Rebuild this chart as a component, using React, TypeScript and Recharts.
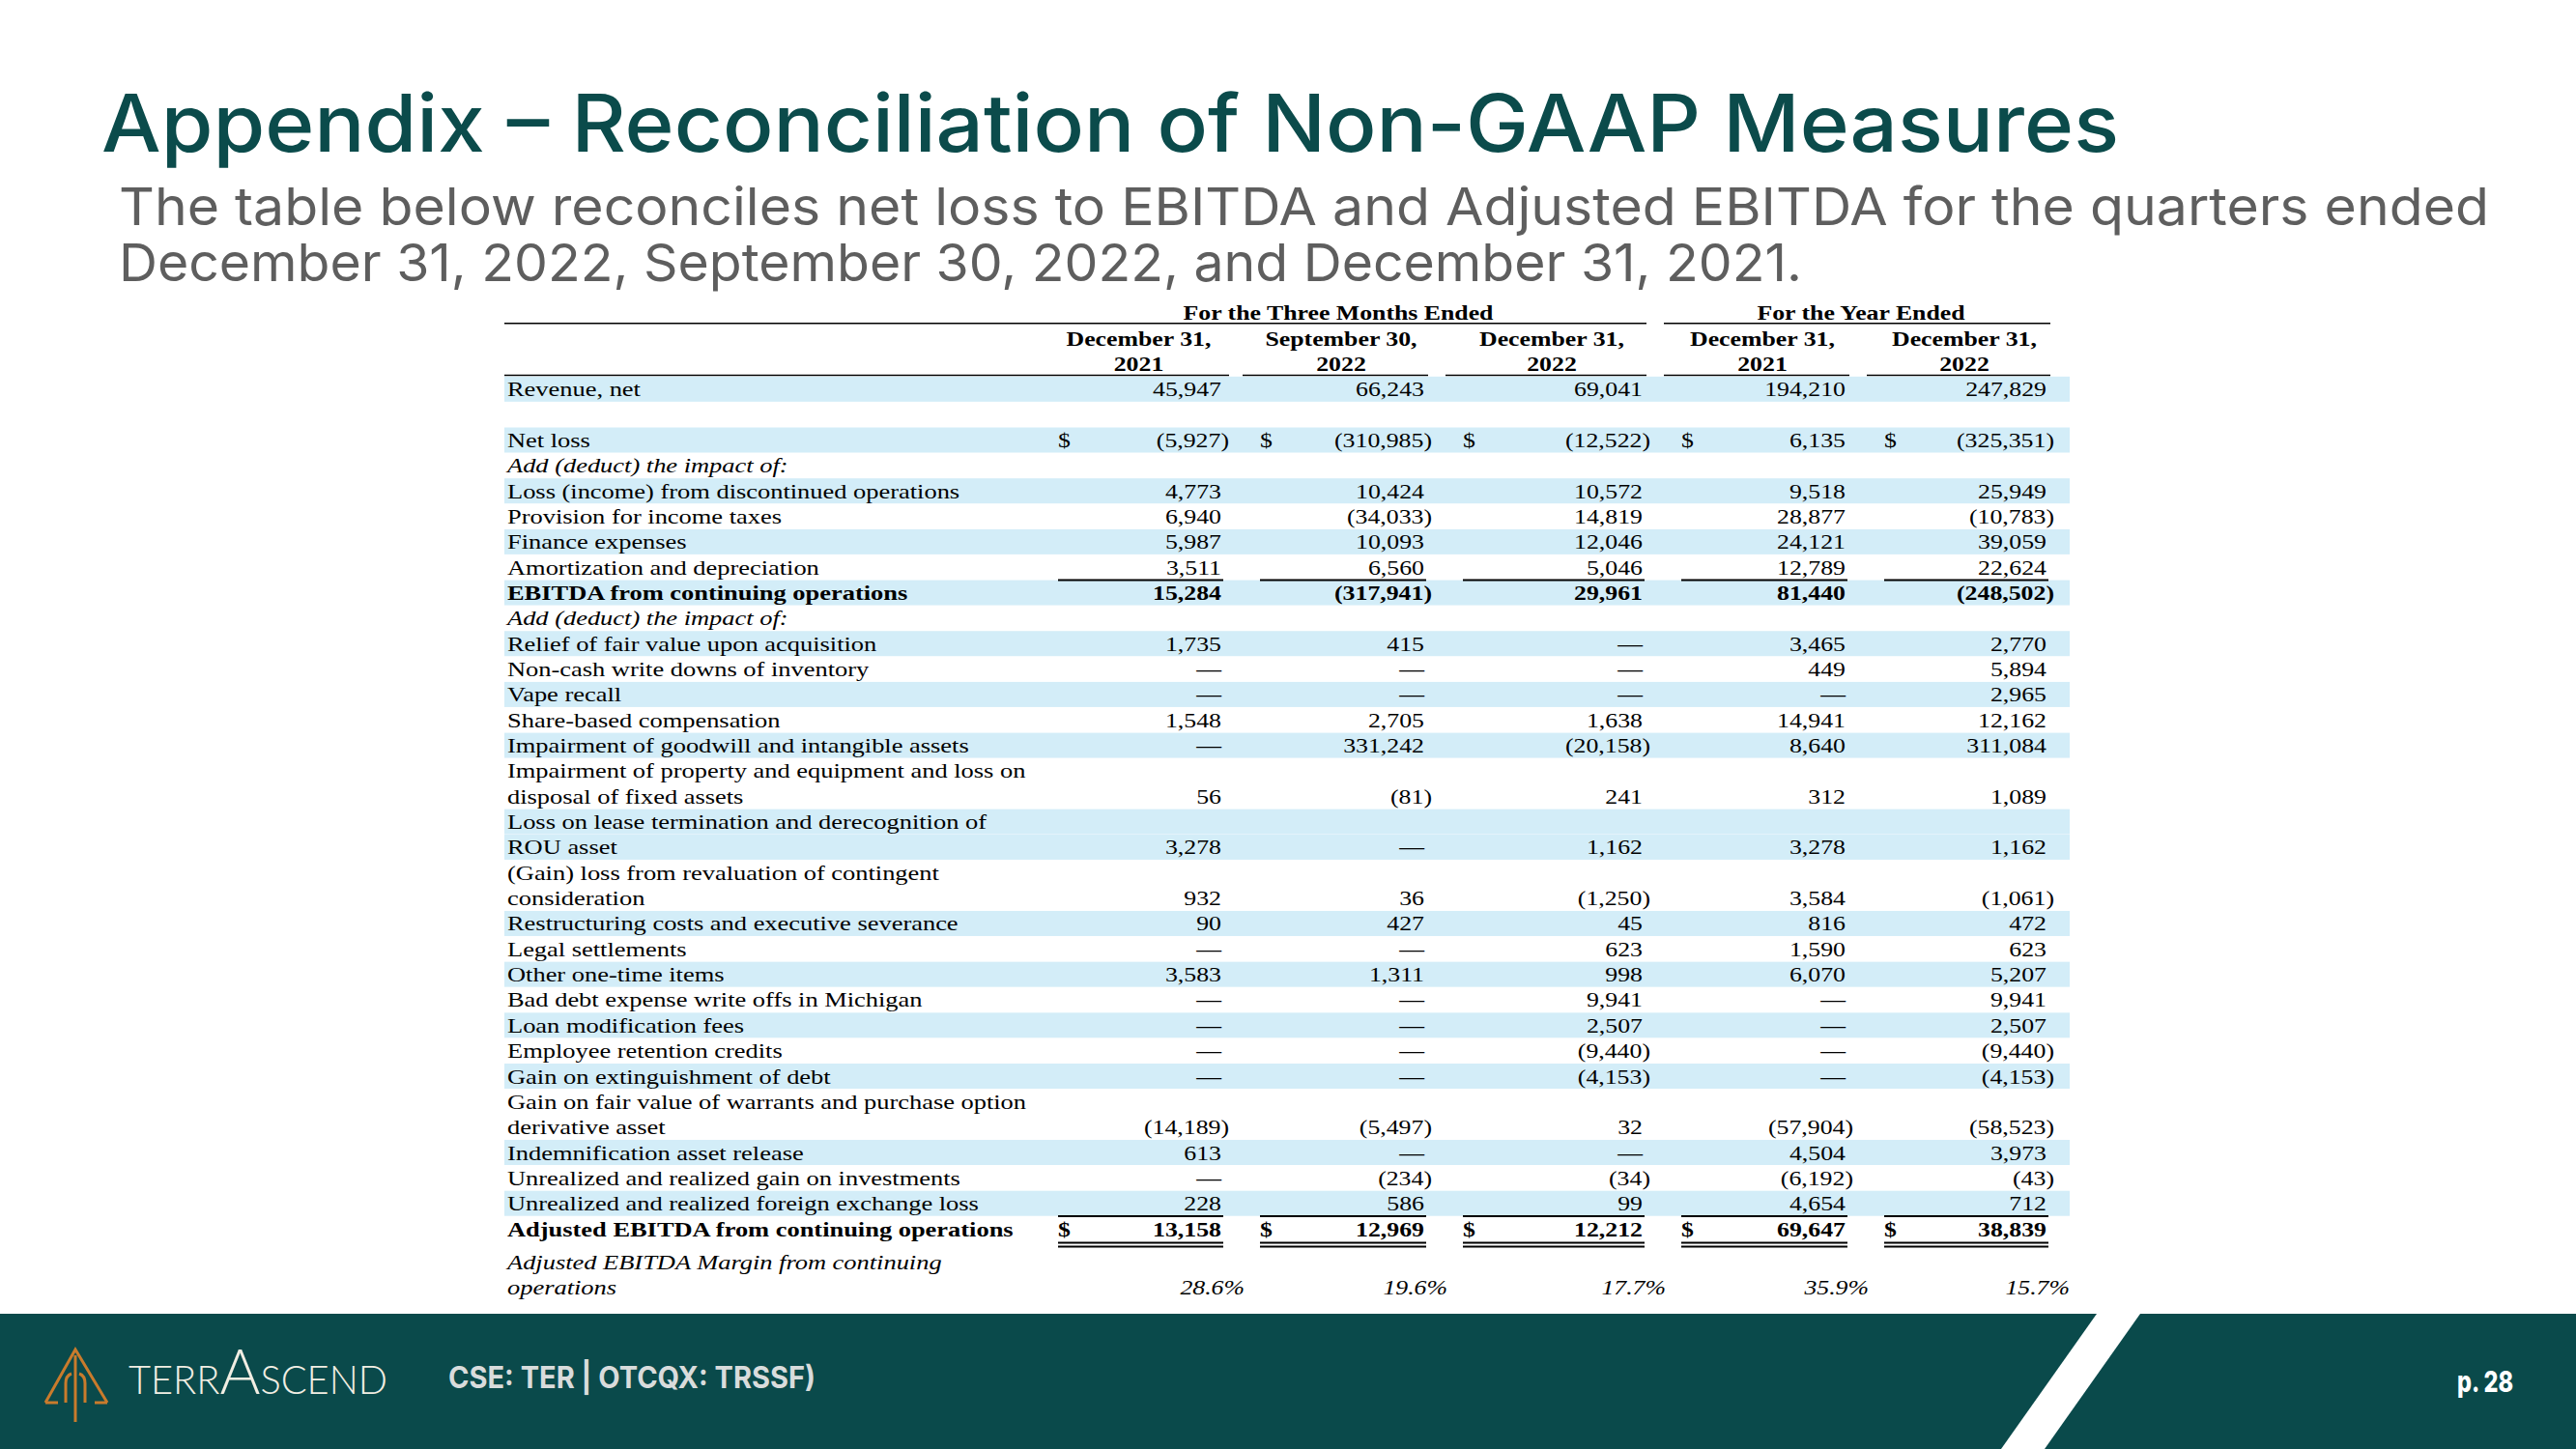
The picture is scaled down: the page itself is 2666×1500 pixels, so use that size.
import React from "react";
import { BarChart, Bar, XAxis, YAxis } from "recharts";

// header text
const GROUP_HEADERS = ["For the Three Months Ended", "For the Year Ended"];
const PERIOD_MONTHS = ["December 31,", "September 30,", "December 31,", "December 31,", "December 31,"];
const PERIOD_YEARS = ["2021", "2022", "2022", "2021", "2022"];

// one entry per printed line of the table
const ROW_LABELS = [
  "Revenue, net",
  "",
  "Net loss",
  "Add (deduct) the impact of:",
  "Loss (income) from discontinued operations",
  "Provision for income taxes",
  "Finance expenses",
  "Amortization and depreciation",
  "EBITDA from continuing operations",
  "Add (deduct) the impact of:",
  "Relief of fair value upon acquisition",
  "Non-cash write downs of inventory",
  "Vape recall",
  "Share-based compensation",
  "Impairment of goodwill and intangible assets",
  "Impairment of property and equipment and loss on",
  "disposal of fixed assets",
  "Loss on lease termination and derecognition of",
  "ROU asset",
  "(Gain) loss from revaluation of contingent",
  "consideration",
  "Restructuring costs and executive severance",
  "Legal settlements",
  "Other one-time items",
  "Bad debt expense write offs in Michigan",
  "Loan modification fees",
  "Employee retention credits",
  "Gain on extinguishment of debt",
  "Gain on fair value of warrants and purchase option",
  "derivative asset",
  "Indemnification asset release",
  "Unrealized and realized gain on investments",
  "Unrealized and realized foreign exchange loss",
  "Adjusted EBITDA from continuing operations",
  "Adjusted EBITDA Margin from continuing",
  "operations",
];

const Q4_2021 = [
  "45,947", null, "(5,927)", null, "4,773", "6,940", "5,987", "3,511", "15,284", null,
  "1,735", "—", "—", "1,548", "—", null, "56", null, "3,278", null, "932",
  "90", "—", "3,583", "—", "—", "—", "—", null, "(14,189)", "613", "—", "228",
  "13,158", null, "28.6%",
];
const Q3_2022 = [
  "66,243", null, "(310,985)", null, "10,424", "(34,033)", "10,093", "6,560", "(317,941)", null,
  "415", "—", "—", "2,705", "331,242", null, "(81)", null, "—", null, "36",
  "427", "—", "1,311", "—", "—", "—", "—", null, "(5,497)", "—", "(234)", "586",
  "12,969", null, "19.6%",
];
const Q4_2022 = [
  "69,041", null, "(12,522)", null, "10,572", "14,819", "12,046", "5,046", "29,961", null,
  "—", "—", "—", "1,638", "(20,158)", null, "241", null, "1,162", null, "(1,250)",
  "45", "623", "998", "9,941", "2,507", "(9,440)", "(4,153)", null, "32", "—", "(34)", "99",
  "12,212", null, "17.7%",
];
const FY_2021 = [
  "194,210", null, "6,135", null, "9,518", "28,877", "24,121", "12,789", "81,440", null,
  "3,465", "449", "—", "14,941", "8,640", null, "312", null, "3,278", null, "3,584",
  "816", "1,590", "6,070", "—", "—", "—", "—", null, "(57,904)", "4,504", "(6,192)", "4,654",
  "69,647", null, "35.9%",
];
const FY_2022 = [
  "247,829", null, "(325,351)", null, "25,949", "(10,783)", "39,059", "22,624", "(248,502)", null,
  "2,770", "5,894", "2,965", "12,162", "311,084", null, "1,089", null, "1,162", null, "(1,061)",
  "472", "623", "5,207", "9,941", "2,507", "(9,440)", "(4,153)", null, "(58,523)", "3,973", "(43)", "712",
  "38,839", null, "15.7%",
];
const COLUMNS = [Q4_2021, Q3_2022, Q4_2022, FY_2021, FY_2022];

// row formatting (by line index)
const SHADED = [0, 2, 4, 6, 8, 10, 12, 14, 17, 18, 21, 23, 25, 27, 30, 32];
const ITALIC = [3, 9, 34, 35];
const BOLD = [8, 33];
const DOLLAR = [2, 33];
const RULE_ABOVE = [8, 33];
const DOUBLE_BELOW = [33];
const SHIFTED = [34, 35];

// layout
const TABLE_LEFT = 522;
const LABEL_W = 549;
const COL_W = [209, 210, 226, 210, 208];
const TAIL_W = 8;
const TABLE_W = LABEL_W + COL_W.reduce((s, w) => s + w, 0) + TAIL_W;
const ROW_H = 26.34;
const FIRST_ROW_CENTER = 403 - 3 * ROW_H;

const STRIPE = "#d3edf8";
const TEAL = "#0b4b4b";
const SERIF = "'Liberation Serif', 'Times New Roman', serif";
const FS = 21.5;
const SX = 1.2;
const SX_LABEL = 1.23;

type Row = {
  id: string;
  kind: "group" | "month" | "year" | "line";
  idx: number;
  label: string;
  vals: (string | null)[];
  shade: boolean;
};

const rows: Row[] = [
  { id: "h0", kind: "group", idx: -3, label: "", vals: [], shade: false },
  { id: "h1", kind: "month", idx: -2, label: "", vals: [], shade: false },
  { id: "h2", kind: "year", idx: -1, label: "", vals: [], shade: false },
  ...ROW_LABELS.map((label, i) => ({
    id: "r" + i,
    kind: "line" as const,
    idx: i,
    label,
    vals: COLUMNS.map((c) => c[i]),
    shade: SHADED.includes(i),
  })),
];

const data = rows.map((r) => ({
  ...r,
  wLabel: LABEL_W,
  w0: COL_W[0],
  w1: COL_W[1],
  w2: COL_W[2],
  w3: COL_W[3],
  w4: COL_W[4],
  wTail: TAIL_W,
}));

function Txt({ x, y, anchor = "start", bold = false, italic = false, sx = SX, children }: any) {
  return (
    <text
      transform={`translate(${x},${y}) scale(${sx},1)`}
      textAnchor={anchor}
      fontFamily={SERIF}
      fontSize={FS}
      fontWeight={bold ? 700 : 400}
      fontStyle={italic ? "italic" : "normal"}
      fill="#000"
    >
      {children}
    </text>
  );
}

function Rule({ x1, x2, y, w = 2 }: any) {
  return <line x1={x1} x2={x2} y1={y} y2={y} stroke="#000" strokeWidth={w} />;
}

function baseOf(y: number, h: number, r: Row) {
  return y + h / 2 + 7.5 + (SHIFTED.includes(r.idx) ? 8 : 0);
}

function LabelCell(props: any) {
  const { x, y, width, height, payload } = props;
  const r: Row = payload;
  return (
    <g>
      {r.shade && <rect x={x} y={y} width={width} height={height} fill={STRIPE} />}
      {r.kind === "group" && <Rule x1={x} x2={x + width} y={y + height - 2} w={1.6} />}
      {r.kind === "year" && <Rule x1={x} x2={x + width} y={y + height - 1} w={1.6} />}
      {r.kind === "line" && r.label && (
        <Txt x={x + 3} y={baseOf(y, height, r)} sx={SX_LABEL} bold={BOLD.includes(r.idx)} italic={ITALIC.includes(r.idx)}>
          {r.label}
        </Txt>
      )}
    </g>
  );
}

function makeValueCell(col: number) {
  return function ValueCell(props: any) {
    const { x, y, width, height, payload } = props;
    const r: Row = payload;
    const base = baseOf(y, height, r);
    const digitsRight = x + width - 16;
    const parts: React.ReactNode[] = [];
    if (r.shade) parts.push(<rect key="bg" x={x} y={y} width={width} height={height} fill={STRIPE} />);

    if (r.kind === "group") {
      const lx1 = col === 3 ? x + 6 : x;
      const lx2 = col === 2 || col === 4 ? x + width - 12 : x + width;
      parts.push(<Rule key="gl" x1={lx1} x2={lx2} y={y + height - 2} w={1.6} />);
      if (col === 1)
        parts.push(<Txt key="gt" x={x + width / 2} y={base} anchor="middle" bold>{GROUP_HEADERS[0]}</Txt>);
      if (col === 3)
        parts.push(<Txt key="gt" x={x + width} y={base} anchor="middle" bold>{GROUP_HEADERS[1]}</Txt>);
    } else if (r.kind === "month" || r.kind === "year") {
      const t = r.kind === "month" ? PERIOD_MONTHS[col] : PERIOD_YEARS[col];
      parts.push(<Txt key="ht" x={x + width / 2 + 3} y={base} anchor="middle" bold>{t}</Txt>);
      if (r.kind === "year") {
        const lx1 = col === 0 ? x : x + 6;
        const lx2 = col === 0 ? x + width - 8 : x + width - 12;
        parts.push(<Rule key="yl" x1={lx1} x2={lx2} y={y + height - 1} w={1.6} />);
      }
    } else {
      const v = r.vals[col];
      const bold = BOLD.includes(r.idx);
      if (DOLLAR.includes(r.idx))
        parts.push(<Txt key="d" x={x + 24} y={base} bold={bold}>$</Txt>);
      if (v) {
        let ax = digitsRight;
        if (v.endsWith("%")) ax = digitsRight + 24;
        else if (v.endsWith(")")) ax = digitsRight + 8;
        parts.push(
          <Txt key="v" x={ax} y={base} anchor="end" bold={bold} italic={ITALIC.includes(r.idx)}>
            {v}
          </Txt>
        );
      }
      if (RULE_ABOVE.includes(r.idx))
        parts.push(<Rule key="ra" x1={x + 24} x2={x + width - 14} y={y} w={2} />);
      if (DOUBLE_BELOW.includes(r.idx)) {
        parts.push(<Rule key="db1" x1={x + 24} x2={x + width - 14} y={y + height + 1.5} w={2} />);
        parts.push(<Rule key="db2" x1={x + 24} x2={x + width - 14} y={y + height + 5.5} w={2} />);
      }
    }
    return <g>{parts}</g>;
  };
}

function TailCell(props: any) {
  const { x, y, width, height, payload } = props;
  return payload.shade ? <rect x={x} y={y} width={width} height={height} fill={STRIPE} /> : <g />;
}

function Slide() {
  return (
    <svg width={2666} height={1500} style={{ position: "absolute", left: 0, top: 0 }}>
      <text x={105} y={157} fontFamily="Inter, 'Open Sans', sans-serif" fontWeight={500} fontSize={82} fill={TEAL}
        textLength={2088} lengthAdjust="spacingAndGlyphs">
        Appendix – Reconciliation of Non-GAAP Measures
      </text>
      <text x={123} y={233} fontFamily="Inter, 'Open Sans', sans-serif" fontWeight={400} fontSize={54} fill="#5e5e5e"
        textLength={2453} lengthAdjust="spacingAndGlyphs">
        The table below reconciles net loss to EBITDA and Adjusted EBITDA for the quarters ended
      </text>
      <text x={123} y={291} fontFamily="Inter, 'Open Sans', sans-serif" fontWeight={400} fontSize={54} fill="#5e5e5e"
        textLength={1742} lengthAdjust="spacingAndGlyphs">
        December 31, 2022, September 30, 2022, and December 31, 2021.
      </text>

      {/* footer band */}
      <rect x={0} y={1360} width={2666} height={140} fill="#0a4a4b" />
      <polygon points="2170,1360 2215,1360 2116,1500 2071,1500" fill="#fff" />

      {/* logo mark */}
      <g stroke="#c97b2c" strokeWidth={3} fill="none" strokeLinejoin="miter">
        <path d="M47 1452 L78 1397 L111 1452" />
        <path d="M47 1452 L60 1452 M111 1452 L98 1452" />
        <path d="M78 1403 L78 1472" />
        <path d="M68 1452 L68 1432 Q68 1424 74 1422" />
        <path d="M88 1452 L88 1432 Q88 1424 82 1422" />
      </g>
      <text x={133} y={1443} fontFamily="Lato, 'Open Sans', sans-serif" fontWeight={300} fontSize={41} fill="#f1eee3"
        textLength={268} lengthAdjust="spacingAndGlyphs">
        TERR<tspan fontSize={66}>A</tspan>SCEND
      </text>
      <text x={464} y={1437} fontFamily="Inter, 'Open Sans', sans-serif" fontWeight={700} fontSize={31} fill="#d9dcdc"
        textLength={380} lengthAdjust="spacingAndGlyphs">
        CSE: TER | OTCQX: TRSSF)
      </text>
      <text x={2543} y={1441} fontFamily="Inter, 'Open Sans', sans-serif" fontWeight={800} fontSize={30} fill="#fff"
        textLength={58} lengthAdjust="spacingAndGlyphs">
        p. 28
      </text>
    </svg>
  );
}

export default function App() {
  const plotTop = FIRST_ROW_CENTER - ROW_H / 2;
  const plotH = ROW_H * data.length;
  return (
    <div style={{ position: "absolute", left: 0, top: 0, width: 2666, height: 1500, background: "#fff", overflow: "hidden" }}>
      <Slide />
      <div style={{ position: "absolute", left: 0, top: 0 }}>
        <BarChart
          layout="vertical"
          width={2666}
          height={1500}
          data={data}
          margin={{ top: plotTop, bottom: 1500 - plotTop - plotH, left: TABLE_LEFT, right: 2666 - TABLE_LEFT - TABLE_W }}
          barCategoryGap={0}
          barGap={0}
        >
          <XAxis type="number" domain={[0, TABLE_W]} hide />
          <YAxis type="category" dataKey="id" hide />
          <Bar dataKey="wLabel" stackId="t" isAnimationActive={false} shape={LabelCell} />
          {COL_W.map((_, i) => (
            <Bar key={i} dataKey={"w" + i} stackId="t" isAnimationActive={false} shape={makeValueCell(i)} />
          ))}
          <Bar dataKey="wTail" stackId="t" isAnimationActive={false} shape={TailCell} />
        </BarChart>
      </div>
    </div>
  );
}
